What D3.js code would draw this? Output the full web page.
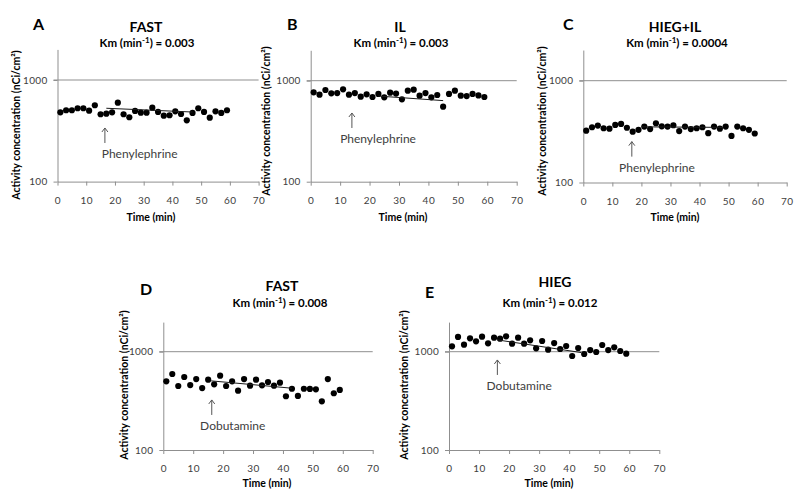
<!DOCTYPE html>
<html>
<head>
<meta charset="utf-8">
<script src="https://cdn.jsdelivr.net/npm/d3@7"></script>
<style>
  html, body { margin: 0; padding: 0; background: #fff; }
  svg { display: block; font-family: Lato, "Open Sans", sans-serif; }
</style>
</head>
<body>
<svg id="chart" width="800" height="499"></svg>
<script>
// ---------- DATA ----------
const times = [1,3,5,7,9,11,13,15,17,19,21,23,25,27,29,31,33,35,37,39,41,43,45,47,49,51,53,55,57,59];

const valuesA = [481,504,504,527,527,499,564,460,466,481,598,460,430,496,477,477,534,485,446,450,492,463,401,474,527,485,426,492,474,504];
const valuesB = [768,727,809,750,755,822,727,755,695,733,690,740,685,761,745,654,796,815,710,755,685,722,553,740,796,710,705,740,715,690];
const valuesC = [323,349,362,341,338,368,376,345,316,329,354,335,382,356,354,365,320,354,335,341,349,305,354,338,354,287,354,341,329,303];
const valuesD = [500,593,448,553,458,527,427,519,466,570,448,500,401,527,451,519,455,492,451,484,352,420,355,420,418,414,313,527,378,408];
const valuesE = [1135,1412,1178,1368,1276,1422,1217,1389,1356,1435,1208,1389,1208,1306,1083,1285,1048,1225,1065,1143,904,1091,948,1040,993,1170,1040,1107,1016,954];

// trend lines: [startTime, startValue, endTime, endValue]
const trendA = [17, 527, 47, 484];
const trendB = [23, 705, 45, 635];
const trendC = [20, 352, 48, 348];
const trendD = [16, 505, 43, 425];
const trendE = [16, 1320, 44, 980];

const panelLetters = ["A", "B", "C", "D", "E"];
const panelTitles = ["FAST", "IL", "HIEG+IL", "FAST", "HIEG"];
const kmValues = ["0.003", "0.003", "0.0004", "0.008", "0.012"];
const drugNames = ["Phenylephrine", "Phenylephrine", "Phenylephrine", "Dobutamine", "Dobutamine"];
const arrowTimes = [16.5, 14, 16.7, 16.2, 16.1];
const arrowTipValues = [337, 479, 252, 323, 824];
const drugLabelTimes = [15.4, 10, 12.3, 12.3, 12.5];

const xTicks = [0, 10, 20, 30, 40, 50, 60, 70];
const yTicks = [100, 1000];
const yDomain = [100, 2000];
const xDomain = [0, 70];
const yLabel = "Activity concentration (nCi/cm²)";
const xLabel = "Time (min)";

const seriesValues = [valuesA, valuesB, valuesC, valuesD, valuesE];
const trends = [trendA, trendB, trendC, trendD, trendE];

// ---------- LAYOUT ----------
const layout = [
  { x0: 57.5, x1: 258.6, y100: 181.6, y1000: 80.0,
    letter: [33, 30], title: [146, 32], km: [147, 47], ylab: [16, 125], xlab: [151, 221], tickBase: 204 },
  { x0: 310.7, x1: 516.7, y100: 181.7, y1000: 80.7,
    letter: [287, 30], title: [400, 32], km: [401, 47], ylab: [266, 121], xlab: [403, 221], tickBase: 204 },
  { x0: 583.3, x1: 786.7, y100: 182.5, y1000: 80.7,
    letter: [563, 30], title: [675, 32], km: [677, 47], ylab: [542, 121], xlab: [675, 221], tickBase: 205 },
  { x0: 163.3, x1: 372.7, y100: 450.0, y1000: 351.7,
    letter: [140, 295], title: [282, 291], km: [280, 307], ylab: [123.5, 385], xlab: [267, 487], tickBase: 472 },
  { x0: 449.0, x1: 659.3, y100: 450.0, y1000: 351.7,
    letter: [425, 298], title: [555, 287], km: [550, 307], ylab: [403.5, 385], xlab: [549, 487], tickBase: 472 }
];

const axisColor = "#8f8f8f";
const textColor = "#404040";

const svg = d3.select("#chart");

layout.forEach((L, i) => {
  const decade = L.y100 - L.y1000;
  const yTop = L.y100 - decade * Math.log10(yDomain[1] / yDomain[0]);
  const x = d3.scaleLinear().domain(xDomain).range([L.x0, L.x1]);
  const y = d3.scaleLog().domain(yDomain).range([L.y100, yTop]);
  const g = svg.append("g");

  // gridline at 1000
  g.append("line")
    .attr("x1", x(0) - 4).attr("x2", x(70))
    .attr("y1", y(1000)).attr("y2", y(1000))
    .attr("stroke", axisColor).attr("stroke-width", 1);

  // x axis
  const xAxis = d3.axisBottom(x).tickValues(xTicks).tickSize(4).tickSizeOuter(0).tickFormat(d3.format("d"));
  const gx = g.append("g").attr("transform", `translate(0,${L.y100})`).call(xAxis);
  gx.select(".domain").attr("stroke", axisColor);
  gx.selectAll(".tick line").attr("stroke", axisColor);
  gx.selectAll(".tick text")
    .attr("y", L.tickBase - L.y100).attr("dy", 0)
    .attr("fill", textColor).style("font-size", "10px").style("font-family", "Lato, sans-serif")
    .style("letter-spacing", "0.5px");

  // y axis
  const yAxis = d3.axisLeft(y).tickValues(yTicks).tickSize(4).tickSizeOuter(0).tickFormat(d3.format("d"));
  const gy = g.append("g").attr("transform", `translate(${L.x0},0)`).call(yAxis);
  gy.select(".domain").attr("stroke", axisColor);
  gy.selectAll(".tick line").attr("stroke", axisColor);
  gy.selectAll(".tick text")
    .attr("x", -10)
    .attr("fill", textColor).style("font-size", "10px").style("font-family", "Lato, sans-serif")
    .style("letter-spacing", "0.3px");

  // points
  const pts = times.map((t, k) => ({ t, v: seriesValues[i][k] }));
  g.selectAll("circle.pt").data(pts).enter().append("circle")
    .attr("class", "pt")
    .attr("cx", d => x(d.t)).attr("cy", d => y(d.v))
    .attr("r", 3.1).attr("fill", "#000");

  // trend line
  const tr = trends[i];
  g.append("line")
    .attr("x1", x(tr[0])).attr("y1", y(tr[1]))
    .attr("x2", x(tr[2])).attr("y2", y(tr[3]))
    .attr("stroke", "#1a1a1a").attr("stroke-width", 1);

  // arrow
  const ax = x(arrowTimes[i]);
  const ay = y(arrowTipValues[i]);
  g.append("line")
    .attr("x1", ax).attr("x2", ax).attr("y1", ay).attr("y2", ay + 15)
    .attr("stroke", "#555").attr("stroke-width", 1);
  g.append("path")
    .attr("d", `M${ax - 3},${ay + 4}L${ax},${ay}L${ax + 3},${ay + 4}`)
    .attr("fill", "none").attr("stroke", "#555").attr("stroke-width", 1);
  g.append("text")
    .attr("x", x(drugLabelTimes[i])).attr("y", ay + 30)
    .attr("fill", textColor).style("font-size", "12px")
    .text(drugNames[i]);

  // panel letter
  g.append("text")
    .attr("x", L.letter[0]).attr("y", L.letter[1])
    .attr("fill", "#000").style("font-size", "16px").style("font-weight", "bold")
    .text(panelLetters[i]);

  // title
  g.append("text")
    .attr("x", L.title[0]).attr("y", L.title[1])
    .attr("text-anchor", "middle")
    .attr("fill", "#000").style("font-size", "14px").style("font-weight", "bold")
    .text(panelTitles[i]);

  // Km line
  const km = g.append("text")
    .attr("x", L.km[0]).attr("y", L.km[1])
    .attr("text-anchor", "middle")
    .attr("fill", "#000").style("font-size", "11.5px").style("font-weight", "bold");
  km.append("tspan").text("Km (min");
  km.append("tspan").attr("dy", -4).style("font-size", "8px").text("-1");
  km.append("tspan").attr("dy", 4).text(") = " + kmValues[i]);

  // y label
  g.append("text")
    .attr("transform", `translate(${L.ylab[0]},${L.ylab[1]}) rotate(-90)`)
    .attr("text-anchor", "middle").attr("dominant-baseline", "central")
    .attr("fill", "#000").style("font-size", "10.5px").style("font-weight", "bold")
    .text(yLabel);

  // x label
  g.append("text")
    .attr("x", L.xlab[0]).attr("y", L.xlab[1])
    .attr("text-anchor", "middle")
    .attr("fill", "#000").style("font-size", "10.5px").style("font-weight", "bold")
    .text(xLabel);
});
</script>
</body>
</html>
